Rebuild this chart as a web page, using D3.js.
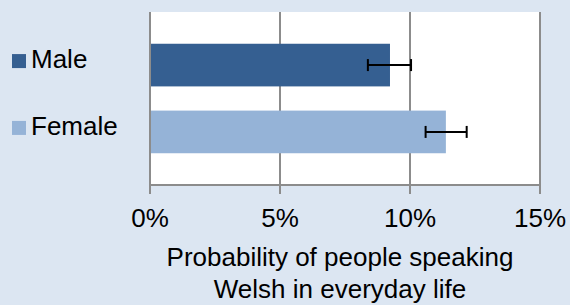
<!DOCTYPE html>
<html><head><meta charset="utf-8">
<script src="https://cdn.jsdelivr.net/npm/d3@7"></script>
<style>html,body{margin:0;padding:0;background:#DCE6F2;}svg{display:block;}</style>
</head><body>
<script>
const categories = ["Male", "Female"];
const values = [0.0923, 0.1138];
const errLow = [0.0838, 0.1060];
const errHigh = [0.1004, 0.1218];
const colors = ["#355F91", "#95B3D7"];
const xTicks = [0, 0.05, 0.10, 0.15];
const titleLines = ["Probability of people speaking", "Welsh in everyday life"];

const W = 570, H = 305;
const svg = d3.select("body").append("svg").attr("width", W).attr("height", H);
svg.append("rect").attr("width", W).attr("height", H).attr("fill", "#DCE6F2");

const x = d3.scaleLinear().domain([0, 0.15]).range([150, 540]);
const y = d3.scaleBand().domain(categories).range([12, 185]).paddingInner(0.362).paddingOuter(0.475);

svg.append("rect").attr("x", x(0)).attr("y", 12).attr("width", x(0.15)-x(0)).attr("height", 173).attr("fill", "#fff");

const grid = "#8C8C8C";
svg.append("g").selectAll("line").data(xTicks).join("line")
  .attr("x1", d=>x(d)).attr("x2", d=>x(d)).attr("y1", 12).attr("y2", 194)
  .attr("stroke", grid).attr("stroke-width", 2);
svg.append("line").attr("x1", x(0)-1).attr("x2", x(0.15)+1).attr("y1", 185).attr("y2", 185)
  .attr("stroke", grid).attr("stroke-width", 2);

svg.append("g").selectAll("rect").data(categories).join("rect")
  .attr("x", x(0)+1).attr("y", d=>y(d)).attr("height", y.bandwidth())
  .attr("width", (d,i)=>x(values[i])-x(0)-1).attr("fill", (d,i)=>colors[i]);

const eb = svg.append("g").attr("stroke", "#000").attr("stroke-width", 2);
categories.forEach((c,i)=>{
  const cy = y(c) + y.bandwidth()/2;
  eb.append("line").attr("x1", x(errLow[i])).attr("x2", x(errHigh[i])).attr("y1", cy).attr("y2", cy);
  [errLow[i], errHigh[i]].forEach(v=>{
    eb.append("line").attr("x1", x(v)).attr("x2", x(v)).attr("y1", cy-6).attr("y2", cy+6);
  });
});

const font = "'Liberation Sans', Arial, sans-serif";
svg.append("g").selectAll("text").data(xTicks).join("text")
  .attr("x", d=>x(d)).attr("y", 227).attr("text-anchor", "middle")
  .attr("font-family", font).attr("font-size", 26).attr("fill", "#000")
  .text(d=>d3.format(".0%")(d));

svg.append("g").selectAll("text").data(titleLines).join("text")
  .attr("x", 340).attr("y", (d,i)=>266+i*32).attr("text-anchor", "middle")
  .attr("font-family", font).attr("font-size", 26).attr("fill", "#000")
  .text(d=>d);

const leg = svg.append("g");
categories.forEach((c,i)=>{
  const cy = y(c) + y.bandwidth()/2;
  leg.append("rect").attr("x", 12).attr("y", cy-11).attr("width", 14).attr("height", 14).attr("fill", colors[i]);
  leg.append("text").attr("x", 31).attr("y", cy+3).attr("font-family", font).attr("font-size", 26)
    .attr("fill", "#000").text(c);
});
</script>
</body></html>
